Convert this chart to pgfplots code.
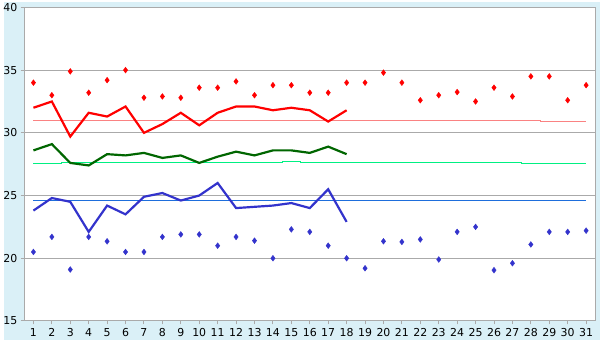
\documentclass[border=0pt]{standalone}
\usepackage{pgfplots}
\pgfplotsset{compat=1.18}
\usepackage{fontspec}
\setmainfont{DejaVu Sans}
\definecolor{bgblue}{RGB}{218,240,247}
\definecolor{gridgray}{RGB}{170,170,170}
\definecolor{maxred}{RGB}{255,0,0}
\definecolor{normred}{RGB}{250,130,130}
\definecolor{avggreen}{RGB}{0,102,0}
\definecolor{normgreen}{RGB}{0,240,130}
\definecolor{minblue}{RGB}{51,51,204}
\definecolor{normblue}{RGB}{30,110,220}
\begin{document}
\begin{tikzpicture}[x=1pt,y=1pt]
\fill[bgblue] (0,0) rectangle (600,340);
\begin{axis}[
  at={(20.7pt,19.3pt)}, anchor=south west,
  scale only axis, width=574.6pt, height=315.4pt,
  xmin=0.5, xmax=31.5, ymin=15, ymax=40,
  xtick={1,...,31}, ytick={15,20,25,30,35,40},
  axis background/.style={fill=white},
  axis line style={gridgray, line width=1pt},
  ymajorgrids, grid style={gridgray, line width=1pt},
  tick style={gridgray, line width=1pt},
  tick align=outside,
  major tick length=3.5pt,
  xtick pos=bottom, ytick pos=left,
  tick label style={font=\fontsize{11}{12}\selectfont, black},
  xticklabel style={yshift=-0.5pt},
  /pgf/number format/assume math mode=true,
  clip=false,
]
% normal max
\addplot[normred, line width=1pt, const plot mark mid] coordinates {
(1,31.0)(2,31.0)(3,31.0)(4,31.0)(5,31.0)(6,31.0)(7,31.0)(8,31.0)(9,31.0)(10,31.0)
(11,31.0)(12,31.0)(13,31.0)(14,31.0)(15,31.0)(16,31.0)(17,31.0)(18,31.0)(19,31.0)(20,31.0)
(21,31.0)(22,31.0)(23,31.0)(24,31.0)(25,31.0)(26,31.0)(27,31.0)(28,31.0)(29,30.9)(30,30.9)(31,30.9)};
% normal mean
\addplot[normgreen, line width=1pt, const plot mark mid] coordinates {
(1,27.58)(2,27.58)(3,27.62)(4,27.62)(5,27.62)(6,27.62)(7,27.62)(8,27.62)(9,27.62)(10,27.62)
(11,27.62)(12,27.62)(13,27.62)(14,27.66)(15,27.70)(16,27.66)(17,27.62)(18,27.62)(19,27.62)(20,27.62)
(21,27.62)(22,27.62)(23,27.62)(24,27.62)(25,27.62)(26,27.62)(27,27.62)(28,27.56)(29,27.56)(30,27.56)(31,27.56)};
% normal min
\addplot[normblue, line width=1pt] coordinates {(1,24.6)(31,24.6)};
% max values
\addplot[only marks, mark=diamond*, mark size=2.9pt, maxred] coordinates {
(1,34.0)(2,33.0)(3,34.9)(4,33.2)(5,34.2)(6,35.0)(7,32.8)(8,32.9)(9,32.8)(10,33.6)
(11,33.6)(12,34.1)(13,33.0)(14,33.8)(15,33.8)(16,33.2)(17,33.2)(18,34.0)(19,34.0)(20,34.8)
(21,34.0)(22,32.6)(23,33.0)(24,33.25)(25,32.5)(26,33.6)(27,32.9)(28,34.5)(29,34.5)(30,32.6)(31,33.8)};
% min values
\addplot[only marks, mark=diamond*, mark size=2.9pt, minblue] coordinates {
(1,20.5)(2,21.7)(3,19.1)(4,21.7)(5,21.35)(6,20.5)(7,20.5)(8,21.7)(9,21.9)(10,21.9)
(11,21.0)(12,21.7)(13,21.4)(14,20.0)(15,22.3)(16,22.1)(17,21.0)(18,20.0)(19,19.2)(20,21.35)
(21,21.3)(22,21.5)(23,19.9)(24,22.1)(25,22.5)(26,19.05)(27,19.6)(28,21.1)(29,22.1)(30,22.1)(31,22.2)};
% avg max
\addplot[maxred, line width=2.2pt] coordinates {
(1,32.0)(2,32.5)(3,29.7)(4,31.6)(5,31.3)(6,32.1)(7,30.0)(8,30.7)(9,31.6)(10,30.6)
(11,31.6)(12,32.1)(13,32.1)(14,31.8)(15,32.0)(16,31.8)(17,30.9)(18,31.8)};
% avg mean
\addplot[avggreen, line width=2.2pt] coordinates {
(1,28.6)(2,29.1)(3,27.6)(4,27.4)(5,28.3)(6,28.2)(7,28.4)(8,28.0)(9,28.2)(10,27.6)
(11,28.1)(12,28.5)(13,28.2)(14,28.6)(15,28.6)(16,28.4)(17,28.9)(18,28.3)};
% avg min
\addplot[minblue, line width=2.2pt] coordinates {
(1,23.8)(2,24.8)(3,24.5)(4,22.1)(5,24.2)(6,23.5)(7,24.9)(8,25.2)(9,24.6)(10,25.0)
(11,26.0)(12,24.0)(13,24.1)(14,24.2)(15,24.4)(16,24.0)(17,25.5)(18,22.9)};
\end{axis}
\end{tikzpicture}
\end{document}
